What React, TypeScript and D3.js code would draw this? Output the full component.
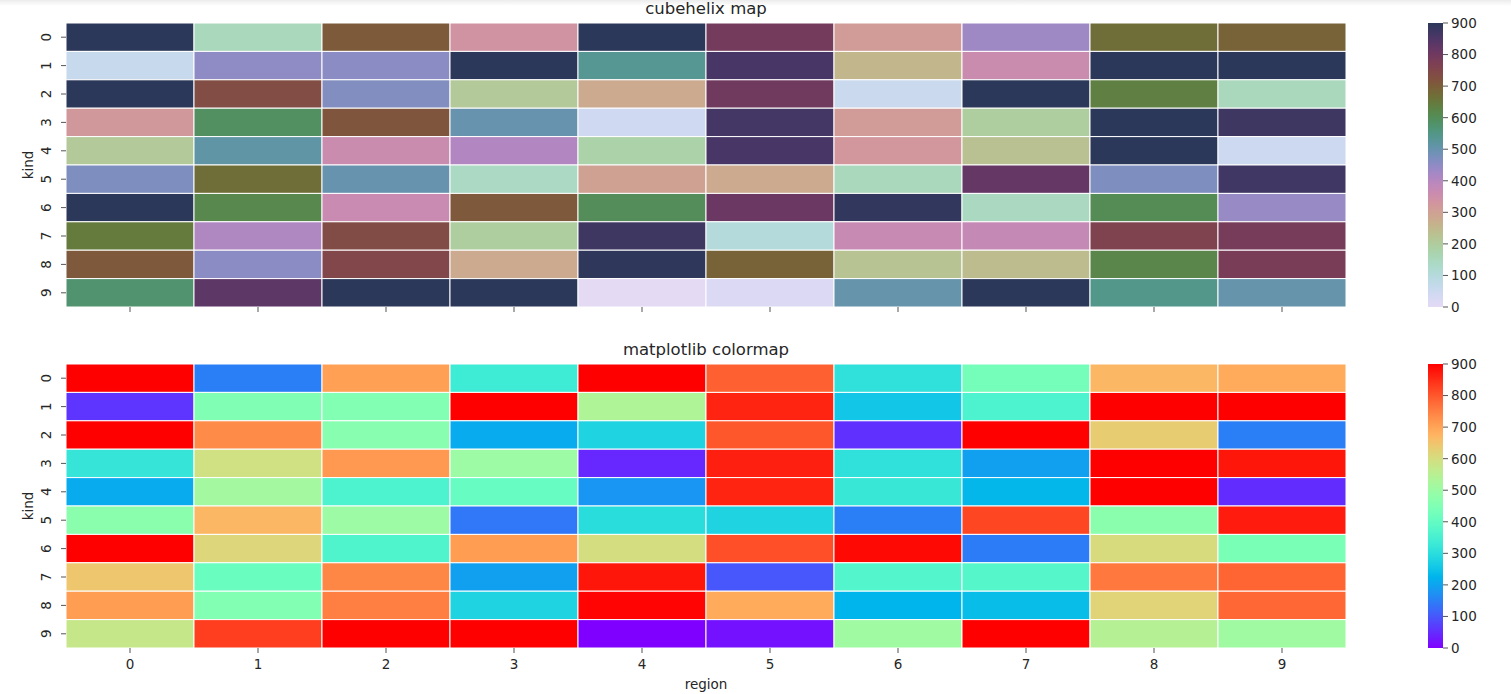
import React from "react";
import * as d3 from "d3";

const regions = ["0", "1", "2", "3", "4", "5", "6", "7", "8", "9"];
const kinds = ["0", "1", "2", "3", "4", "5", "6", "7", "8", "9"];
const colorbarTicks = [0, 100, 200, 300, 400, 500, 600, 700, 800, 900];
const titles = ["cubehelix map", "matplotlib colormap"];

// rows = kind, columns = region
const values: number[][] = [
  [900, 150, 705, 335, 900, 790, 310, 430, 670, 690],
  [60, 450, 455, 900, 535, 860, 255, 360, 900, 900],
  [900, 735, 465, 210, 280, 800, 55, 900, 635, 150],
  [320, 590, 715, 500, 45, 865, 310, 195, 900, 875],
  [210, 515, 360, 405, 180, 860, 325, 230, 900, 50],
  [470, 670, 500, 140, 300, 280, 150, 820, 470, 870],
  [900, 615, 365, 710, 600, 810, 890, 145, 605, 440],
  [645, 410, 740, 195, 875, 100, 370, 375, 760, 785],
  [710, 455, 750, 280, 895, 690, 225, 240, 620, 780],
  [575, 830, 900, 900, 0, 20, 505, 900, 545, 505],
];

const VMIN = 0;
const VMAX = 900;

// seaborn cubehelix_palette(start=1.5, rot=3, gamma=0.8, as_cmap=True)
function cubehelixCmap(t: number): string {
  const start = 1.5, rot = 3, gamma = 0.8, hue = 0.8, light = 0.85, dark = 0.15;
  const x = light + (dark - light) * t;
  const xg = Math.pow(x, gamma);
  const a = (hue * xg * (1 - xg)) / 2;
  const phi = 2 * Math.PI * (start / 3 + rot * x);
  const ch = (p0: number, p1: number) =>
    Math.max(0, Math.min(1, xg + a * (p0 * Math.cos(phi) + p1 * Math.sin(phi))));
  const r = ch(-0.14861, 1.78277);
  const g = ch(-0.29227, -0.90649);
  const b = ch(1.97294, 0.0);
  return d3.rgb(r * 255, g * 255, b * 255).formatHex();
}

// matplotlib "rainbow"
function rainbowCmap(t: number): string {
  const cl = (v: number) => Math.max(0, Math.min(1, v));
  const r = cl(Math.abs(2 * t - 0.5));
  const g = cl(Math.sin(Math.PI * t));
  const b = cl(Math.cos((Math.PI * t) / 2));
  return d3.rgb(r * 255, g * 255, b * 255).formatHex();
}

const cmaps = [cubehelixCmap, rainbowCmap];

const LEFT = 66;
const WIDTH = 1280;
const HEIGHT = 284;
const TOPS = [23, 364];
const CB_X = 1428;
const CB_W = 15;
const FONT = "DejaVu Sans, sans-serif";
const TEXT = "#262626";
const TICK = "#555";

function Heatmap({ idx }: { idx: number }) {
  const top = TOPS[idx];
  const cmap = cmaps[idx];
  const x = d3.scaleBand<string>().domain(regions).range([LEFT, LEFT + WIDTH]);
  const y = d3.scaleBand<string>().domain(kinds).range([top, top + HEIGHT]);
  const norm = d3.scaleLinear().domain([VMIN, VMAX]).range([0, 1]).clamp(true);
  const cb = d3.scaleLinear().domain([VMIN, VMAX]).range([top + HEIGHT, top]);
  const gradId = `grad${idx}`;
  const stops = d3.range(0, 1.0001, 1 / 64);
  const showXLabels = idx === 1;
  return (
    <g>
      <defs>
        <linearGradient id={gradId} x1="0" y1="1" x2="0" y2="0">
          {stops.map((s, i) => (
            <stop key={i} offset={s} stopColor={cmap(s)} />
          ))}
        </linearGradient>
      </defs>
      <text
        x={LEFT + WIDTH / 2}
        y={top - 9}
        textAnchor="middle"
        fontFamily={FONT}
        fontSize={16.5}
        fill={TEXT}
      >
        {titles[idx]}
      </text>
      {values.map((row, ri) =>
        row.map((v, ci) => (
          <rect
            key={`${ri}-${ci}`}
            x={x(regions[ci])!}
            y={y(kinds[ri])!}
            width={x.bandwidth()}
            height={y.bandwidth()}
            fill={cmap(norm(v))}
            stroke="#ffffff"
            strokeWidth={1}
          />
        ))
      )}
      {kinds.map((k) => {
        const cy = y(k)! + y.bandwidth() / 2;
        return (
          <g key={k}>
            <line x1={LEFT - 5} x2={LEFT} y1={cy} y2={cy} stroke={TICK} strokeWidth={1} />
            <text
              transform={`translate(${51},${cy}) rotate(-90)`}
              textAnchor="middle"
              fontFamily={FONT}
              fontSize={13.5}
              fill={TEXT}
            >
              {k}
            </text>
          </g>
        );
      })}
      <text
        transform={`translate(${33},${top + HEIGHT / 2}) rotate(-90)`}
        textAnchor="middle"
        fontFamily={FONT}
        fontSize={13.5}
        fill={TEXT}
      >
        kind
      </text>
      {regions.map((r) => {
        const cx = x(r)! + x.bandwidth() / 2;
        return (
          <g key={r}>
            <line x1={cx} x2={cx} y1={top + HEIGHT} y2={top + HEIGHT + 5} stroke={TICK} strokeWidth={1} />
            {showXLabels && (
              <text
                x={cx}
                y={top + HEIGHT + 21}
                textAnchor="middle"
                fontFamily={FONT}
                fontSize={13.5}
                fill={TEXT}
              >
                {r}
              </text>
            )}
          </g>
        );
      })}
      {showXLabels && (
        <text
          x={LEFT + WIDTH / 2}
          y={top + HEIGHT + 41}
          textAnchor="middle"
          fontFamily={FONT}
          fontSize={13.5}
          fill={TEXT}
        >
          region
        </text>
      )}
      <rect x={CB_X} y={top} width={CB_W} height={HEIGHT} fill={`url(#${gradId})`} />
      {colorbarTicks.map((t) => (
        <g key={t}>
          <line x1={CB_X + CB_W} x2={CB_X + CB_W + 5} y1={cb(t)} y2={cb(t)} stroke={TICK} strokeWidth={1} />
          <text
            x={CB_X + CB_W + 8}
            y={cb(t)}
            dy="0.36em"
            fontFamily={FONT}
            fontSize={13.5}
            fill={TEXT}
          >
            {t}
          </text>
        </g>
      ))}
    </g>
  );
}

export default function App() {
  return (
    <svg
      width={1511}
      height={694}
      style={{ position: "absolute", left: 0, top: 0, background: "#fff" }}
    >
      <defs>
        <linearGradient id="topShade" x1="0" y1="0" x2="0" y2="1">
          <stop offset="0" stopColor="#ececec" />
          <stop offset="1" stopColor="#ffffff" />
        </linearGradient>
      </defs>
      <rect x={0} y={0} width={1511} height={6} fill="url(#topShade)" />
      <Heatmap idx={0} />
      <Heatmap idx={1} />
    </svg>
  );
}
